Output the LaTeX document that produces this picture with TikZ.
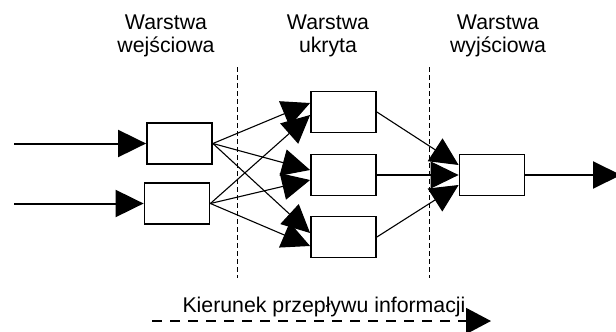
\documentclass[tikz,border=0pt]{standalone}
\usepackage{fontspec}
\setmainfont{Liberation Sans}
\usetikzlibrary{arrows.meta,calc}

\begin{document}
\begin{tikzpicture}[x=1pt,y=-1pt,
  neuron/.style={draw,line width=1.8pt,minimum width=65pt,minimum height=41pt,inner sep=0pt},
  bigtip/.style={-{Triangle[length=28pt,width=27pt]}},
  link/.style={bigtip,line width=1.1pt},
  feed/.style={bigtip,line width=2pt},
  divider/.style={line width=0.8pt,dash pattern=on 5pt off 3pt},
  title/.style={align=center,inner sep=0pt,anchor=north},
  every node/.style={font=\fontsize{21.3}{22.5}\selectfont}]
\useasboundingbox (0,0) rectangle (616,332);

% layer titles
\node[title] (t1) at (166,15) {Warstwa\\wejściowa};
\node[title] (t2) at (328,15) {Warstwa\\ukryta};
\node[title] (t3) at (498,15) {Warstwa\\wyjściowa};

% layer separators
\coordinate (d1a) at (237,67);
\coordinate (d1b) at (237,278);
\coordinate (d2a) at (429,67);
\coordinate (d2b) at (429,278);
\draw[divider] (d1a) -- (d1b);
\draw[divider] (d2a) -- (d2b);

% neurons
\node[neuron] (i1) at (179.5,143.5) {};
\node[neuron] (i2) at (177,203.5) {};
\node[neuron] (h1) at (343.5,112) {};
\node[neuron] (h2) at (343.5,175) {};
\node[neuron] (h3) at (343.5,237) {};
\node[neuron] (o)  at (492,175) {};

% inputs and output
\coordinate (x1) at (14,143.5);
\coordinate (x2) at (14,203.5);
\coordinate (y)  at (621,175);
\draw[feed] (x1) -- (i1.west);
\draw[feed] (x2) -- (i2.west);
\draw[feed] (o.east) -- (y);

% input -> hidden
\draw[link] (i1.east) -- ($(h1.west)+(0,-9)$);
\draw[link] (i2.east) -- ($(h1.west)+(0,3)$);
\draw[link] (i1.east) -- ($(h2.west)+(0,-5)$);
\draw[link] (i2.east) -- ($(h2.west)+(0,5)$);
\draw[link] (i1.east) -- ($(h3.west)+(0,-4)$);
\draw[link] (i2.east) -- ($(h3.west)+(0,9)$);

% hidden -> output
\draw[link] (h1.east) -- ($(o.west)+(0,-10)$);
\draw[link] (h2.east) -- (o.west);
\draw[link] (h3.east) -- ($(o.west)+(0,10)$);

% direction of information flow
\node[anchor=base,inner sep=0pt] (flow) at (324,312) {Kierunek przepływu informacji};
\coordinate (f1) at (152,321);
\coordinate (f2) at (491,321);
\draw[line width=1.8pt,dash pattern=on 10pt off 8pt,-{Triangle[length=25pt,width=26pt]}] (f1) -- (f2);
\end{tikzpicture}
\end{document}
